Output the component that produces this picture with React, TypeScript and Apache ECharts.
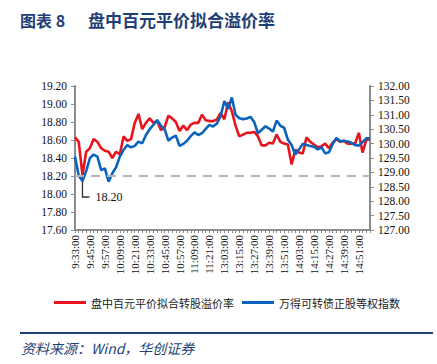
import React, { useEffect, useRef } from "react";
import * as echarts from "echarts";

const categories: string[] = [
  "9:33:00", "9:36:00", "9:39:00", "9:42:00", "9:45:00", "9:48:00", "9:51:00", "9:54:00", "9:57:00",
  "10:00:00", "10:03:00", "10:06:00", "10:09:00", "10:12:00", "10:15:00", "10:18:00", "10:21:00", "10:24:00",
  "10:27:00", "10:30:00", "10:33:00", "10:36:00", "10:39:00", "10:42:00", "10:45:00", "10:48:00", "10:51:00",
  "10:54:00", "10:57:00", "11:00:00", "11:03:00", "11:06:00", "11:09:00", "11:12:00", "11:15:00", "11:18:00",
  "11:21:00", "11:24:00", "11:27:00", "11:30:00",
  "13:03:00", "13:06:00", "13:09:00", "13:12:00", "13:15:00", "13:18:00", "13:21:00", "13:24:00", "13:27:00",
  "13:30:00", "13:33:00", "13:36:00", "13:39:00", "13:42:00", "13:45:00", "13:48:00", "13:51:00", "13:54:00",
  "13:57:00", "14:00:00", "14:03:00", "14:06:00", "14:09:00", "14:12:00", "14:15:00", "14:18:00", "14:21:00",
  "14:24:00", "14:27:00", "14:30:00", "14:33:00", "14:36:00", "14:39:00", "14:42:00", "14:45:00", "14:48:00",
  "14:51:00", "14:54:00", "14:57:00", "15:00:00",
];

// 盘中百元平价拟合转股溢价率 (left axis)
const premiumRate: number[] = [
  18.63, 18.58, 18.21, 18.47, 18.51, 18.61, 18.58, 18.51, 18.48, 18.47,
  18.40, 18.47, 18.44, 18.64, 18.59, 18.61, 18.79, 18.89, 18.72, 18.79,
  18.84, 18.79, 18.81, 18.71, 18.74, 18.87, 18.84, 18.80, 18.70, 18.76,
  18.71, 18.77, 18.79, 18.79, 18.88, 18.82, 18.81, 18.81, 18.83, 18.90,
  18.83, 19.02, 18.92, 18.76, 18.64, 18.66, 18.68, 18.68, 18.69, 18.64,
  18.54, 18.54, 18.57, 18.56, 18.66, 18.58, 18.56, 18.55, 18.33, 18.49,
  18.46, 18.45, 18.63, 18.58, 18.55, 18.52, 18.53, 18.56, 18.51, 18.57,
  18.61, 18.58, 18.59, 18.56, 18.56, 18.56, 18.68, 18.46, 18.60, 18.61,
];

// 万得可转债正股等权指数 (right axis)
const stockIndex: number[] = [
  129.55, 128.88, 128.70, 129.05, 129.50, 129.62, 129.55, 129.08, 129.14, 128.68,
  128.97, 129.18, 129.55, 129.78, 129.95, 129.87, 129.92, 130.07, 130.01, 130.30,
  130.50, 130.65, 130.82, 130.62, 130.50, 130.10, 130.21, 130.28, 129.92, 129.99,
  130.10, 130.26, 130.39, 130.30, 130.36, 130.51, 130.65, 130.59, 130.70, 130.95,
  131.48, 131.20, 131.60, 131.00, 130.88, 130.85, 130.87, 130.93, 130.74, 130.36,
  130.48, 130.60, 130.52, 130.42, 130.80, 130.62, 130.55, 130.14, 129.95, 129.62,
  129.80, 130.00, 129.95, 129.92, 129.89, 129.80, 129.87, 129.66, 129.70, 129.98,
  130.20, 130.08, 130.10, 130.07, 130.03, 129.95, 129.93, 130.05, 130.18, 130.18,
];

const seriesNames = ["盘中百元平价拟合转股溢价率", "万得可转债正股等权指数"];
const leftAxisRange = { min: 17.6, max: 19.2, interval: 0.2 };
const rightAxisRange = { min: 127, max: 132, interval: 0.5 };
const referenceLevel = 18.2;
const annotationText = "18.20";
const annotationIndex = 2;

const titleText = "图表 8";
const titleMain = "盘中百元平价拟合溢价率";
const sourceText = "资料来源：Wind，华创证券";

const NAVY = "#1F3F77";
const RED = "#E8131C";
const BLUE = "#0A64BE";
const AXIS = "#8C8C8C";
const SERIF = "'Liberation Serif', 'Times New Roman', serif";
const CJK = "'Noto Sans CJK SC', sans-serif";

export default function App() {
  const ref = useRef<HTMLDivElement>(null);
  useEffect(() => {
    document.body.style.margin = "0";
    if (!ref.current) return;
    const chart = echarts.init(ref.current, null, { renderer: "svg" });
    const option: any = {
      animation: false,
      backgroundColor: "#ffffff",
      grid: { left: 75, right: 67, top: 86, bottom: 134 },
      legend: {
        data: seriesNames,
        left: 49,
        top: 292,
        itemWidth: 32,
        itemHeight: 3,
        itemGap: 8,
        icon: "rect",
        textStyle: { fontFamily: CJK, fontSize: 11, color: "#222" },
      },
      xAxis: {
        type: "category",
        data: categories,
        boundaryGap: false,
        axisLine: { lineStyle: { color: AXIS, width: 2 } },
        axisTick: { interval: 0, length: 3, lineStyle: { color: AXIS, width: 1 } },
        axisLabel: {
          interval: 3,
          rotate: 90,
          margin: 5,
          fontFamily: SERIF,
          fontSize: 11,
          color: "#111",
        },
      },
      yAxis: [
        {
          type: "value",
          min: leftAxisRange.min,
          max: leftAxisRange.max,
          interval: leftAxisRange.interval,
          splitLine: { show: false },
          axisLine: { show: true, lineStyle: { color: AXIS, width: 2 } },
          axisTick: { show: true, length: 4, lineStyle: { color: AXIS } },
          axisLabel: {
            formatter: (v: number) => v.toFixed(2),
            fontFamily: SERIF,
            fontSize: 11.5,
            color: "#111",
            margin: 8,
          },
        },
        {
          type: "value",
          min: rightAxisRange.min,
          max: rightAxisRange.max,
          interval: rightAxisRange.interval,
          splitLine: { show: false },
          axisLine: { show: true, lineStyle: { color: AXIS, width: 2 } },
          axisTick: { show: true, length: 4, lineStyle: { color: AXIS } },
          axisLabel: {
            formatter: (v: number) => v.toFixed(2),
            fontFamily: SERIF,
            fontSize: 11.5,
            color: "#111",
            margin: 8,
          },
        },
      ],
      series: [
        {
          name: seriesNames[0],
          type: "line",
          yAxisIndex: 0,
          data: premiumRate,
          showSymbol: false,
          symbol: "none",
          color: RED,
          lineStyle: { color: RED, width: 2.6 },
          markLine: {
            silent: true,
            symbol: "none",
            label: { show: false },
            lineStyle: { color: "#B4B4B4", width: 2, type: [9, 7] },
            data: [{ yAxis: referenceLevel }],
          },
        },
        {
          name: seriesNames[1],
          type: "line",
          yAxisIndex: 1,
          data: stockIndex,
          showSymbol: false,
          symbol: "none",
          color: BLUE,
          lineStyle: { color: BLUE, width: 2.6 },
        },
      ],
      graphic: [
        {
          type: "text",
          left: 20,
          top: 12,
          style: {
            text: titleText,
            font: `bold 16px ${CJK}`,
            fill: NAVY,
          },
        },
        {
          type: "text",
          left: 88,
          top: 11,
          style: {
            text: titleMain,
            font: `bold 17px ${CJK}`,
            fill: NAVY,
          },
        },
        {
          type: "line",
          shape: { x1: 20, y1: 333, x2: 433, y2: 333 },
          style: { stroke: NAVY, lineWidth: 2 },
        },
        {
          type: "text",
          left: 21,
          top: 341,
          style: {
            text: sourceText,
            font: `italic 14px ${CJK}`,
            fill: NAVY,
          },
        },
      ],
    };
    chart.setOption(option);
    const p = chart.convertToPixel({ xAxisIndex: 0, yAxisIndex: 0 }, [
      annotationIndex,
      referenceLevel,
    ]) as number[];
    if (p) {
      chart.setOption({
        graphic: [
          ...option.graphic,
          {
            type: "polyline",
            shape: {
              points: [
                [p[0], p[1]],
                [p[0], p[1] + 21],
                [p[0] + 7, p[1] + 21],
              ],
            },
            style: { stroke: "#333", lineWidth: 1.3, fill: "none" },
          },
          {
            type: "text",
            x: p[0] + 13,
            y: p[1] + 21,
            style: {
              text: annotationText,
              font: `12px ${SERIF}`,
              fill: "#111",
              verticalAlign: "middle",
            },
          },
        ],
      });
    }
    return () => chart.dispose();
  }, []);
  return <div ref={ref} style={{ width: 437, height: 364 }} />;
}
